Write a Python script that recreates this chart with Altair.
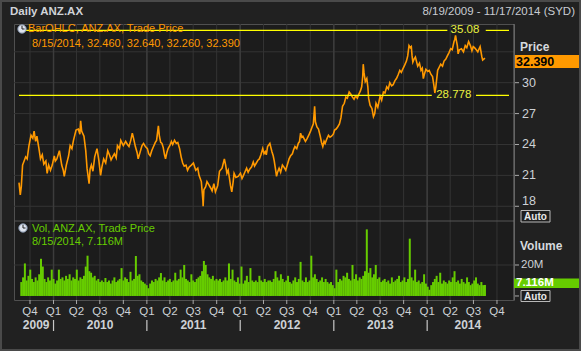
import altair as alt
import pandas as pd

FONT = "Liberation Sans"

# ---------------- data ----------------
price_dates = [
    "2009-08-19","2009-08-24","2009-08-28","2009-09-02","2009-09-08","2009-09-14","2009-09-20","2009-09-27",
    "2009-10-05","2009-10-12","2009-10-17","2009-10-23","2009-10-28","2009-11-05","2009-11-11","2009-11-18",
    "2009-11-24","2009-12-02","2009-12-07","2009-12-13","2009-12-20","2009-12-27",
    "2010-01-04","2010-01-08","2010-01-14","2010-01-24","2010-02-02","2010-02-08","2010-02-12","2010-02-20",
    "2010-03-01","2010-03-07","2010-03-14","2010-03-20","2010-03-30","2010-04-08","2010-04-14","2010-04-17",
    "2010-04-21","2010-04-30","2010-05-07","2010-05-12","2010-05-20","2010-05-24","2010-05-29","2010-06-04",
    "2010-06-11","2010-06-20","2010-06-27","2010-07-04","2010-07-09","2010-07-16","2010-07-24","2010-08-01",
    "2010-08-09","2010-08-14","2010-08-20","2010-08-27","2010-09-03","2010-09-08","2010-09-16","2010-09-21",
    "2010-10-01","2010-10-10","2010-10-17","2010-10-23","2010-10-30","2010-11-05","2010-11-10","2010-11-17",
    "2010-11-24","2010-11-28","2010-12-06","2010-12-13","2010-12-19","2010-12-26",
    "2011-01-03","2011-01-08","2011-01-14","2011-01-20","2011-01-27","2011-02-03","2011-02-08","2011-02-15",
    "2011-02-19","2011-02-24","2011-03-01","2011-03-06","2011-03-11","2011-03-15","2011-03-20","2011-03-25",
    "2011-04-01","2011-04-07","2011-04-12","2011-04-19","2011-04-26","2011-05-02","2011-05-09","2011-05-15",
    "2011-05-21","2011-05-27","2011-06-03","2011-06-09","2011-06-15","2011-06-24","2011-07-02","2011-07-11",
    "2011-07-19","2011-07-24","2011-08-02","2011-08-08","2011-08-09","2011-08-12","2011-08-19","2011-08-24",
    "2011-08-31","2011-09-07","2011-09-13","2011-09-20","2011-09-26","2011-10-05","2011-10-12","2011-10-22",
    "2011-10-31","2011-11-05","2011-11-10","2011-11-15","2011-11-20","2011-11-24","2011-11-29","2011-12-04",
    "2011-12-08","2011-12-15","2011-12-24",
    "2012-01-02","2012-01-08","2012-01-12","2012-01-19","2012-01-26","2012-02-01","2012-02-07","2012-02-14",
    "2012-02-21","2012-02-26","2012-03-04","2012-03-11","2012-03-16","2012-03-22","2012-03-29","2012-04-03",
    "2012-04-08","2012-04-12","2012-04-17","2012-04-26","2012-04-30","2012-05-04","2012-05-09","2012-05-13",
    "2012-05-18","2012-05-22","2012-05-26","2012-06-01","2012-06-07","2012-06-14","2012-06-20","2012-06-27",
    "2012-07-03","2012-07-10","2012-07-16","2012-07-23","2012-07-28","2012-08-02","2012-08-09","2012-08-15",
    "2012-08-20","2012-08-24","2012-08-29","2012-09-02","2012-09-08","2012-09-12","2012-09-19","2012-09-25",
    "2012-10-02","2012-10-08","2012-10-13","2012-10-18","2012-10-21","2012-10-27","2012-11-02","2012-11-09",
    "2012-11-14","2012-11-19","2012-11-24","2012-11-28","2012-12-04","2012-12-11","2012-12-17","2012-12-23",
    "2012-12-30",
    "2013-01-04","2013-01-10","2013-01-16","2013-01-23","2013-01-29","2013-02-04","2013-02-11","2013-02-17",
    "2013-02-23","2013-03-02","2013-03-08","2013-03-15","2013-03-21","2013-03-27","2013-04-03","2013-04-09",
    "2013-04-15","2013-04-20","2013-04-24","2013-04-26","2013-04-29","2013-05-04","2013-05-10","2013-05-14",
    "2013-05-17","2013-05-23","2013-05-30","2013-06-05","2013-06-10","2013-06-15","2013-06-22","2013-07-01",
    "2013-07-07","2013-07-14","2013-07-20","2013-07-27","2013-08-02","2013-08-08","2013-08-15","2013-08-21",
    "2013-08-28","2013-09-03","2013-09-10","2013-09-16","2013-09-22","2013-09-29","2013-10-05","2013-10-12",
    "2013-10-17","2013-10-22","2013-10-27","2013-10-31","2013-11-03","2013-11-06","2013-11-11","2013-11-16",
    "2013-11-21","2013-11-25","2013-12-02","2013-12-08","2013-12-13","2013-12-17","2013-12-22","2013-12-27",
    "2014-01-03","2014-01-09","2014-01-16","2014-01-22","2014-01-27","2014-01-31","2014-02-04","2014-02-11",
    "2014-02-17","2014-02-23","2014-03-02","2014-03-08","2014-03-15","2014-03-21","2014-03-27","2014-04-03",
    "2014-04-09","2014-04-16","2014-04-19","2014-04-22","2014-04-26","2014-04-29","2014-05-02","2014-05-07",
    "2014-05-15","2014-05-23","2014-05-30","2014-06-05","2014-06-12","2014-06-19","2014-06-25","2014-06-30",
    "2014-07-05","2014-07-12","2014-07-18","2014-07-23","2014-07-27","2014-08-03","2014-08-06","2014-08-15",
]
price_values = [
    20.3,19.1,19.9,22.0,22.4,22.8,22.6,23.9,
    24.9,24.6,25.3,24.3,24.8,23.6,22.6,23.0,
    22.1,22.4,21.2,22.0,21.5,22.0,
    22.9,22.4,22.6,23.4,22.0,21.5,20.9,22.0,
    22.9,23.9,23.6,24.4,25.4,25.5,25.0,26.3,
    25.3,24.8,23.4,21.7,20.2,21.6,22.0,21.4,
    22.8,23.6,22.5,21.0,21.8,22.6,22.2,23.4,
    22.9,22.5,22.8,23.1,22.7,23.9,23.6,24.4,
    23.9,24.3,24.0,23.8,24.4,25.1,24.6,23.8,
    23.2,22.6,23.3,23.9,24.1,23.8,
    23.6,23.1,22.9,23.4,23.8,24.2,24.4,25.8,
    24.8,24.2,24.1,23.7,23.0,22.6,23.2,23.6,
    23.9,24.3,24.0,24.4,24.1,24.2,23.6,22.8,
    22.2,21.9,22.0,21.5,21.8,22.0,22.2,21.5,
    21.7,21.0,20.4,18.6,18.0,19.6,19.9,20.4,
    20.1,19.8,19.5,20.2,19.4,20.0,21.4,21.7,
    22.6,22.0,21.2,21.5,20.7,20.0,19.4,20.3,
    21.2,20.8,20.9,
    21.2,20.7,20.9,21.3,21.7,21.3,21.6,21.8,
    22.3,21.9,22.2,22.5,22.6,23.0,23.6,23.1,
    23.3,23.0,23.8,24.1,23.7,23.3,22.9,22.4,
    21.6,20.9,21.3,21.7,21.3,22.0,21.8,21.5,
    22.0,22.6,22.9,23.1,23.5,23.8,23.6,24.1,
    24.3,25.1,24.7,24.8,24.5,24.3,24.6,24.9,
    25.3,25.7,26.0,27.7,26.2,25.7,25.5,24.8,
    24.2,23.8,24.3,24.1,24.5,24.9,24.7,24.8,
    25.0,
    25.4,25.5,25.7,26.0,26.6,27.7,28.0,28.6,
    28.5,29.1,28.9,28.6,28.4,28.7,28.5,28.9,
    29.2,29.6,30.6,31.8,31.0,30.1,30.4,29.6,
    28.5,27.8,27.5,26.7,27.0,28.0,27.6,28.7,
    28.3,29.1,29.0,29.6,29.4,30.0,29.7,29.8,
    30.2,30.4,30.8,31.2,31.0,31.4,31.7,32.1,
    32.6,33.6,33.4,33.5,32.6,32.0,32.3,32.5,
    32.0,31.6,31.9,31.2,31.4,30.4,30.9,31.3,
    31.1,31.2,30.8,30.6,29.8,29.0,29.6,31.2,
    31.5,31.8,31.6,32.1,32.3,32.6,32.9,33.3,
    33.2,34.0,34.2,34.6,34.0,33.6,32.8,33.2,
    33.3,33.0,33.6,33.4,34.0,33.6,33.1,33.5,
    33.4,33.2,33.0,33.3,33.5,32.5,32.2,32.39,
]
# weekly volume in millions, last week ending 2014-08-15
vol_values = [
    9,12,21,10,13,17,11,9,12,10,
    14,24,19,11,9,12,10,17,11,8,
    10,17,11,12,10,13,11,14,10,12,
    11,17,10,12,11,13,19,26,16,15,
    12,13,10,11,9,10,9,11.6,9,10,
    8,10,12,9,10,11,18,10,12,11,
    9,15.6,10,11,25.8,13,14,10,9,8,
    7,5,8,10,9,11,10,12,14.8,10,
    12,9,10,11,9,10,15,10,11,17,
    12,20,11,10,9,14,10,9,11,12,
    13,16,22.6,20,14,12,11,13,10,11,
    10,11,9,10,12,10,21,11,17,10,
    9,12,8,19,8,10,13,9,18,10,
    9,10,9,13,10,9,11,9,10,10,
    9,11,16,12,10,14,11,9,10,13,
    9,8,10,12,9,11,22,10,9,12,
    9,10,26,12,14,11,9,10,12,9,
    11,9,8,9,7,5,17,9,11,10,
    13,12,15,11,10,20,11,14,10,12,
    11,13,16,43,15,18,12,14,20,11,
    12,9,10,11,9,10,8,12,9,10,
    11,13,9,10,12,9,11,37,12,10,
    17,9,10,8,9,14,8,6,4,7,
    9,11,13,9,15,8,10,9,8,10,
    9,12,16,9,10,8,11,9,8,12,
    9,7,8,10,12,8,7,9,7,7.116,
]
vol_dates = pd.date_range(end="2014-08-15", periods=len(vol_values), freq="7D").strftime("%Y-%m-%d").tolist()

quarter_dates = [
    "2009-10-01",
    "2010-01-01","2010-04-01","2010-07-01","2010-10-01",
    "2011-01-01","2011-04-01","2011-07-01","2011-10-01",
    "2012-01-01","2012-04-01","2012-07-01","2012-10-01",
    "2013-01-01","2013-04-01","2013-07-01","2013-10-01",
    "2014-01-01","2014-04-01","2014-07-01","2014-10-01",
]
quarter_labels = ["Q4","Q1","Q2","Q3","Q4","Q1","Q2","Q3","Q4","Q1","Q2","Q3","Q4",
                  "Q1","Q2","Q3","Q4","Q1","Q2","Q3","Q4"]
year_labels = ["2009","2010","2011","2012","2013","2014"]
year_label_dates = ["2009-10-25","2010-07-02","2011-07-02","2012-07-02","2013-07-02","2014-06-09"]
year_bounds = ["2010-01-01","2011-01-01","2012-01-01","2013-01-01","2014-01-01"]

price_ticks = [21, 24, 27, 30]
price_tick_low = [18]
price_grid = [18, 21, 24, 27, 30, 33]
vol_ticks = [0, 20]
vol_grid = [20]

hi_value, lo_value = 35.08, 28.778
hi_label_date, lo_label_date = "2014-05-29", "2014-04-15"
level_segments = pd.DataFrame({
    "v": [hi_value, hi_value, lo_value, lo_value],
    "start": ["2009-08-19", "2014-08-18", "2009-08-19", "2014-07-11"],
    "end": ["2014-03-21", "2014-11-17", "2014-01-19", "2014-11-17"],
})
last_close = "32.390"
last_vol = "7.116M"

# ---------------- scales ----------------
W, H = 500, 276
xdom = [alt.DateTime(year=2009, month=8, date=19, utc=True),
        alt.DateTime(year=2014, month=11, date=17, utc=True)]
xscale = alt.Scale(type="utc", domain=xdom)
pscale = alt.Scale(domain=[16.57, 35.7], range=[197, 0], zero=False, nice=False)
vscale = alt.Scale(domain=[-2.6, 48.4], range=[276, 197], zero=False, nice=False)


def X(f="date"):
    return alt.X(f, type="temporal", scale=xscale, axis=None)


def PY(f="v"):
    return alt.Y(f, type="quantitative", scale=pscale, axis=None)


def VY(f="v"):
    return alt.Y(f, type="quantitative", scale=vscale, axis=None)


one = pd.DataFrame({"a": [0]})
price_df = pd.DataFrame({"date": price_dates, "price": price_values})
vol_df = pd.DataFrame({"date": vol_dates, "vol": vol_values})
q_df = pd.DataFrame({"date": quarter_dates, "label": quarter_labels})
y_df = pd.DataFrame({"date": year_label_dates, "label": year_labels})
yb_df = pd.DataFrame({"date": year_bounds})

GRID = "#343434"
LBL = "#cdd1d6"

layers = []

# grid
layers.append(alt.Chart(pd.DataFrame({"v": price_grid})).mark_rule(color=GRID, strokeWidth=1).encode(y=PY()))
layers.append(alt.Chart(pd.DataFrame({"v": vol_grid})).mark_rule(color=GRID, strokeWidth=1).encode(y=VY()))
layers.append(alt.Chart(q_df).mark_rule(color=GRID, strokeWidth=1).encode(x=X(), y=alt.value(0), y2=alt.value(H)))
layers.append(alt.Chart(yb_df).mark_rule(color="#3c3c3c", strokeWidth=1.5).encode(x=X(), y=alt.value(0), y2=alt.value(H)))

# volume bars
layers.append(alt.Chart(vol_df).mark_bar(color="#66cc00", width=2).encode(x=X(), y=VY("vol")))

# panel separator and right axis line
layers.append(alt.Chart(one).mark_rule(color="#555555").encode(x=alt.value(0), x2=alt.value(W), y=alt.value(197)))
layers.append(alt.Chart(one).mark_rule(color="#7a7a7a").encode(x=alt.value(W), y=alt.value(0), y2=alt.value(H)))

# price line
layers.append(alt.Chart(price_df).mark_line(color="#ff9900", strokeWidth=1.6).encode(x=X(), y=PY("price")))

# high / low levels
layers.append(alt.Chart(level_segments).mark_rule(color="#ffff00", strokeWidth=1.2).encode(
    x=X("start"), x2="end", y=PY()))
layers.append(alt.Chart(pd.DataFrame({"date": [hi_label_date, lo_label_date], "v": [hi_value, lo_value],
                                      "t": ["35.08", "28.778"]}))
              .mark_text(font=FONT, fontSize=11.5, color="#e8f040", align="center", baseline="middle")
              .encode(x=X(), y=PY(), text="t"))

# legends
legend_df = pd.DataFrame({
    "t": ["BarOHLC, ANZ.AX, Trade Price", "8/15/2014, 32.460, 32.640, 32.260, 32.390",
          "Vol, ANZ.AX, Trade Price", "8/15/2014, " + last_vol],
    "x": [14, 18, 18, 18], "y": [5, 19.5, 205, 218],
    "c": ["#ff9900", "#ff9900", "#66cc00", "#66cc00"],
})
layers.append(alt.Chart(legend_df).mark_text(font=FONT, fontSize=11, align="left", baseline="middle").encode(
    x=alt.X("x:Q", scale=None), y=alt.Y("y:Q", scale=None), text="t", color=alt.Color("c:N", scale=None)))
clock_df = pd.DataFrame({"x": [8, 9], "y": [5, 204]})
layers.append(alt.Chart(clock_df).mark_circle(size=70, color="#dfe4ee", opacity=1, stroke="#8090a8", strokeWidth=1).encode(
    x=alt.X("x:Q", scale=None), y=alt.Y("y:Q", scale=None)))
hands_df = pd.DataFrame({"x": [8, 8, 9, 9], "x2": [8, 10.5, 9, 11.5], "y": [1.8, 5, 200.8, 204], "y2": [5, 5, 204, 204]})
layers.append(alt.Chart(hands_df).mark_rule(color="#222222", strokeWidth=1).encode(
    x=alt.X("x:Q", scale=None), x2="x2:Q", y=alt.Y("y:Q", scale=None), y2="y2:Q"))

# right axis: price
layers.append(alt.Chart(pd.DataFrame({"v": price_ticks + price_tick_low})).mark_rule(color="#aaaaaa").encode(
    x=alt.value(W + 1), x2=alt.value(W + 5), y=PY()))
layers.append(alt.Chart(pd.DataFrame({"v": price_ticks})).mark_text(
    font=FONT, fontSize=12.5, color=LBL, align="left", baseline="middle").encode(
    x=alt.value(W + 8), y=PY(), text=alt.Text("v:Q")))
layers.append(alt.Chart(pd.DataFrame({"v": price_tick_low})).mark_text(
    font=FONT, fontSize=12.5, color=LBL, align="left", baseline="middle", dy=-5).encode(
    x=alt.value(W + 8), y=PY(), text=alt.Text("v:Q")))
# right axis: volume
layers.append(alt.Chart(pd.DataFrame({"v": vol_ticks})).mark_rule(color="#aaaaaa").encode(
    x=alt.value(W + 1), x2=alt.value(W + 5), y=VY()))
layers.append(alt.Chart(pd.DataFrame({"v": [20], "t": ["20M"]})).mark_text(
    font=FONT, fontSize=11.5, color=LBL, align="left", baseline="middle").encode(
    x=alt.value(W + 7), y=VY(), text="t"))

# titles of the value axes
axis_titles = pd.DataFrame({"t": ["Price", "Volume"], "y": [22.6, 222]})
layers.append(alt.Chart(axis_titles).mark_text(font=FONT, fontSize=12, fontWeight="bold", color="#d6d9de",
                                               align="left", baseline="middle").encode(
    x=alt.value(W + 6), y=alt.Y("y:Q", scale=None), text="t"))

# last-value boxes
boxes = pd.DataFrame({"x": [W + 1, W], "x2": [W + 65, W + 66], "y": [31, 254.5], "y2": [44, 264],
                      "c": ["#ff9900", "#66cc00"]})
layers.append(alt.Chart(boxes).mark_rect().encode(
    x=alt.X("x:Q", scale=None), x2="x2:Q", y=alt.Y("y:Q", scale=None), y2="y2:Q",
    color=alt.Color("c:N", scale=None)))
box_txt = pd.DataFrame({"t": [last_close, last_vol], "y": [37.8, 259.3], "c": ["#000000", "#ffffff"],
                        "s": [12.5, 11.5]})
layers.append(alt.Chart(box_txt).mark_text(font=FONT, fontWeight="bold", align="left",
                                           baseline="middle").encode(
    x=alt.value(W + 2), y=alt.Y("y:Q", scale=None), text="t", color=alt.Color("c:N", scale=None),
    size=alt.Size("s:Q", scale=None)))

# "Auto" buttons
auto_df = pd.DataFrame({"y": [186.5, 266.5], "y2": [198, 277.5], "ym": [192.5, 272.6]})
layers.append(alt.Chart(auto_df).mark_rect(fill="#1e1e1e", stroke="#b8b8b8", strokeWidth=1).encode(
    x=alt.value(W + 7), x2=alt.value(W + 36), y=alt.Y("y:Q", scale=None), y2="y2:Q"))
layers.append(alt.Chart(auto_df).mark_text(font=FONT, fontSize=10, fontWeight="bold", color="#e8e8e8",
                                           text="Auto", align="center", baseline="middle").encode(
    x=alt.value(W + 21.5), y=alt.Y("ym:Q", scale=None)))

# time axis
layers.append(alt.Chart(q_df).mark_rule(color="#aaaaaa").encode(x=X(), y=alt.value(H), y2=alt.value(H + 4)))
layers.append(alt.Chart(q_df).mark_text(font=FONT, fontSize=11.5, color=LBL, align="center",
                                        baseline="middle").encode(x=X(), y=alt.value(H + 12), text="label"))
layers.append(alt.Chart(y_df).mark_text(font=FONT, fontSize=12, fontWeight="bold", color=LBL, align="center",
                                        baseline="middle").encode(x=X(), y=alt.value(H + 25), text="label"))
layers.append(alt.Chart(yb_df).mark_rule(color="#c8c8c8", strokeWidth=1.2).encode(
    x=X(), y=alt.value(H + 20), y2=alt.value(H + 31)))

# header
head = pd.DataFrame({"t": ["Daily ANZ.AX"], "x": [-4]})
layers.append(alt.Chart(head).mark_text(font=FONT, fontSize=11.5, fontWeight="bold", color="#d0d3d8",
                                        align="left", baseline="middle").encode(
    x=alt.X("x:Q", scale=None), y=alt.value(-12), text="t"))
head2 = pd.DataFrame({"t": ["8/19/2009 - 11/17/2014 (SYD)"], "x": [561]})
layers.append(alt.Chart(head2).mark_text(font=FONT, fontSize=11.5, color="#c8ccd2",
                                         align="right", baseline="middle").encode(
    x=alt.X("x:Q", scale=None), y=alt.value(-12), text="t"))

# outer frame
layers.append(alt.Chart(one).mark_rect(fillOpacity=0, stroke="#4a4a4a", strokeWidth=2).encode(
    x=alt.value(-13), x2=alt.value(566), y=alt.value(-23), y2=alt.value(326)))

chart = alt.layer(*layers).resolve_scale(y="independent").properties(
    width=W, height=H,
    autosize=alt.AutoSizeParams(type="none"),
    padding={"left": 14, "top": 24, "right": 67, "bottom": 51},
    background="#212121",
).configure_view(stroke="#505050", fill="#1c1c1c")

chart.save("out.html", embed_options={"renderer": "svg", "actions": False})
